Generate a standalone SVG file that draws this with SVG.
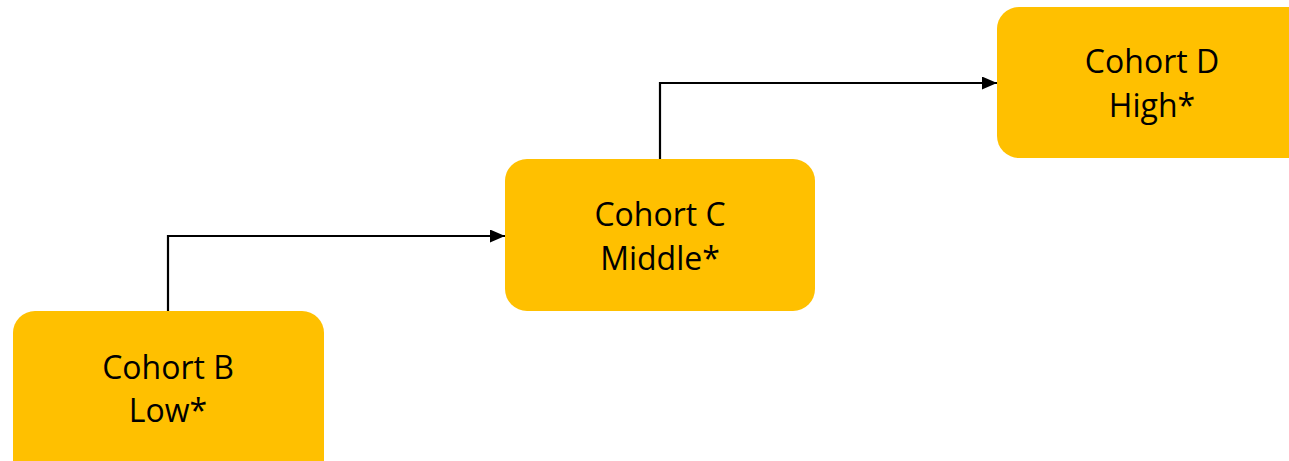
<svg xmlns="http://www.w3.org/2000/svg" width="1289" height="461" viewBox="0 0 1289 461">
<defs>
<marker id="arr" markerWidth="15" markerHeight="13" refX="15" refY="6.5" orient="auto" markerUnits="userSpaceOnUse" viewBox="0 0 15 13">
<path d="M0,0 L15,6.5 L0,13 Z" fill="#000"/>
</marker>
<style>
.box{fill:#FFC000;}
.lbl{font-family:"Open Sans","Liberation Sans",sans-serif;font-size:32px;fill:#000;text-anchor:middle;}
.conn{fill:none;stroke:#000;stroke-width:2.2;}
</style>
</defs>
<rect width="1289" height="461" fill="#fff"/>
<g id="connectors">
<path class="conn" d="M168,311 V236 H505" marker-end="url(#arr)"/>
<path class="conn" d="M660,159 V83 H997" marker-end="url(#arr)"/>
</g>
<g id="nodeB">
<rect class="box" x="13" y="311" width="311" height="175" rx="22"/>
<text class="lbl" x="168" y="379">Cohort B</text>
<text class="lbl" x="168" y="422">Low*</text>
</g>
<g id="nodeC">
<rect class="box" x="505" y="159" width="310" height="152" rx="22"/>
<text class="lbl" x="660" y="226">Cohort C</text>
<text class="lbl" x="660" y="270">Middle*</text>
</g>
<g id="nodeD">
<rect class="box" x="997" y="7" width="320" height="151" rx="22"/>
<text class="lbl" x="1152" y="73">Cohort D</text>
<text class="lbl" x="1152" y="117">High*</text>
</g>
</svg>
